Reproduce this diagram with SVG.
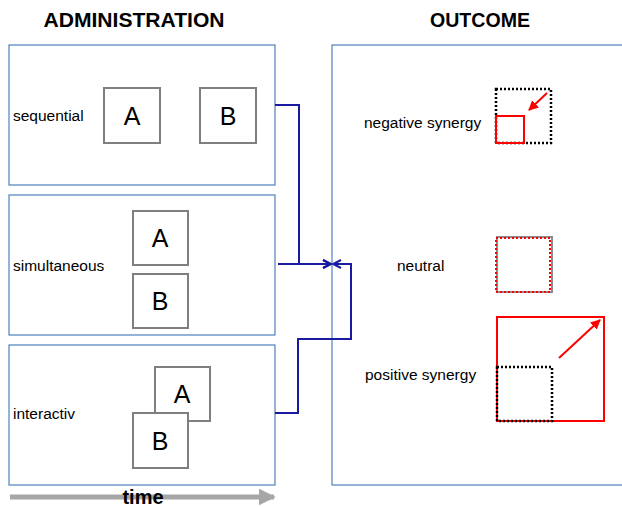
<svg xmlns="http://www.w3.org/2000/svg" width="622" height="507" viewBox="0 0 622 507">
<defs>
<style>
.panel{fill:#fff;stroke:#4f81bd;stroke-width:1.2}
.box{fill:#fff;stroke:#7f7f7f;stroke-width:2}
.lbl{font-family:"Liberation Sans",Arial,sans-serif;font-size:15.5px;fill:#000}
.big{font-family:"Liberation Sans",Arial,sans-serif;font-size:25px;fill:#000;text-anchor:middle}
.hdr{font-family:"Liberation Sans",Arial,sans-serif;font-size:20px;font-weight:bold;fill:#000;text-anchor:middle}
.conn{fill:none;stroke:#1a1aa0;stroke-width:2}
.dot{fill:none;stroke:#000;stroke-width:2.5;stroke-dasharray:2 2}
.red{fill:none;stroke:#f00;stroke-width:2}
</style>
<marker id="ah" viewBox="0 0 10 10" refX="9" refY="5" markerWidth="10" markerHeight="10" orient="auto" markerUnits="userSpaceOnUse">
<path d="M1,1 L9,5 L1,9" fill="none" stroke="#1a1aa0" stroke-width="2"/>
</marker>
<marker id="rah" viewBox="0 0 10 10" refX="9" refY="5" markerWidth="10" markerHeight="10" orient="auto" markerUnits="userSpaceOnUse">
<path d="M0,0 L10,5 L0,10 Z" fill="#f00"/>
</marker>
<marker id="gah" viewBox="0 0 10 10" refX="9" refY="5" markerWidth="17" markerHeight="17" orient="auto" markerUnits="userSpaceOnUse">
<path d="M0,0 L10,5 L0,10 Z" fill="#a6a6a6"/>
</marker>
</defs>
<rect width="622" height="507" fill="#fff"/>
<text class="hdr" x="134" y="27" textLength="181" lengthAdjust="spacingAndGlyphs">ADMINISTRATION</text>
<text class="hdr" x="480" y="27" textLength="100" lengthAdjust="spacingAndGlyphs">OUTCOME</text>

<g id="sequential">
<rect class="panel" x="9" y="45" width="266" height="140"/>
<text class="lbl" x="13" y="121">sequential</text>
<rect class="box" x="104" y="88" width="56" height="55"/>
<text class="big" x="132" y="125">A</text>
<rect class="box" x="200" y="88" width="56" height="55"/>
<text class="big" x="228" y="125">B</text>
</g>
<g id="simultaneous">
<rect class="panel" x="9" y="195" width="266" height="140"/>
<text class="lbl" x="13" y="271">simultaneous</text>
<rect class="box" x="133" y="211" width="55" height="54"/>
<text class="big" x="160" y="247">A</text>
<rect class="box" x="133" y="274" width="55" height="54"/>
<text class="big" x="160" y="310">B</text>
</g>
<g id="interactiv">
<rect class="panel" x="9" y="345" width="266" height="140"/>
<text class="lbl" x="13" y="419">interactiv</text>
<rect class="box" x="155" y="367" width="55" height="54"/>
<text class="big" x="182" y="403">A</text>
<rect class="box" x="133" y="413" width="55" height="55"/>
<text class="big" x="160" y="450">B</text>
</g>
<g id="outcome">
<rect class="panel" x="332" y="45" width="300" height="440"/>
</g>
<g id="negative">
<text class="lbl" x="364" y="128">negative synergy</text>
<rect class="dot" x="496" y="89" width="55" height="54"/>
<rect class="red" x="496" y="116" width="28" height="27"/>
<line x1="547" y1="93" x2="529" y2="110" stroke="#f00" stroke-width="2" marker-end="url(#rah)"/>
</g>
<g id="neutral">
<text class="lbl" x="397" y="271">neutral</text>
<rect x="497" y="237" width="55" height="55" fill="none" stroke="#8c8c8c" stroke-width="2"/>
<rect x="496" y="238" width="54" height="54" fill="none" stroke="#f00" stroke-width="2" stroke-dasharray="2 2"/>
</g>
<g id="positive">
<text class="lbl" x="365" y="380">positive synergy</text>
<rect class="red" x="497" y="317" width="107" height="104"/>
<rect class="dot" x="497" y="367" width="55" height="54"/>
<line x1="559" y1="358" x2="600" y2="320" stroke="#f00" stroke-width="2" marker-end="url(#rah)"/>
</g>
<g id="connectors">
<polyline class="conn" points="275,105 299,105 299,264 331,264" marker-end="url(#ah)"/>
<polyline class="conn" points="278,264 331,264" marker-end="url(#ah)"/>
<polyline class="conn" points="275,413 298,413 298,339 351,339 351,264 333,264" marker-end="url(#ah)"/>
</g>
<g id="time">
<line x1="10" y1="497" x2="274" y2="497" stroke="#a6a6a6" stroke-width="5" marker-end="url(#gah)"/>
<text class="hdr" x="143" y="504">time</text>
</g>
</svg>
